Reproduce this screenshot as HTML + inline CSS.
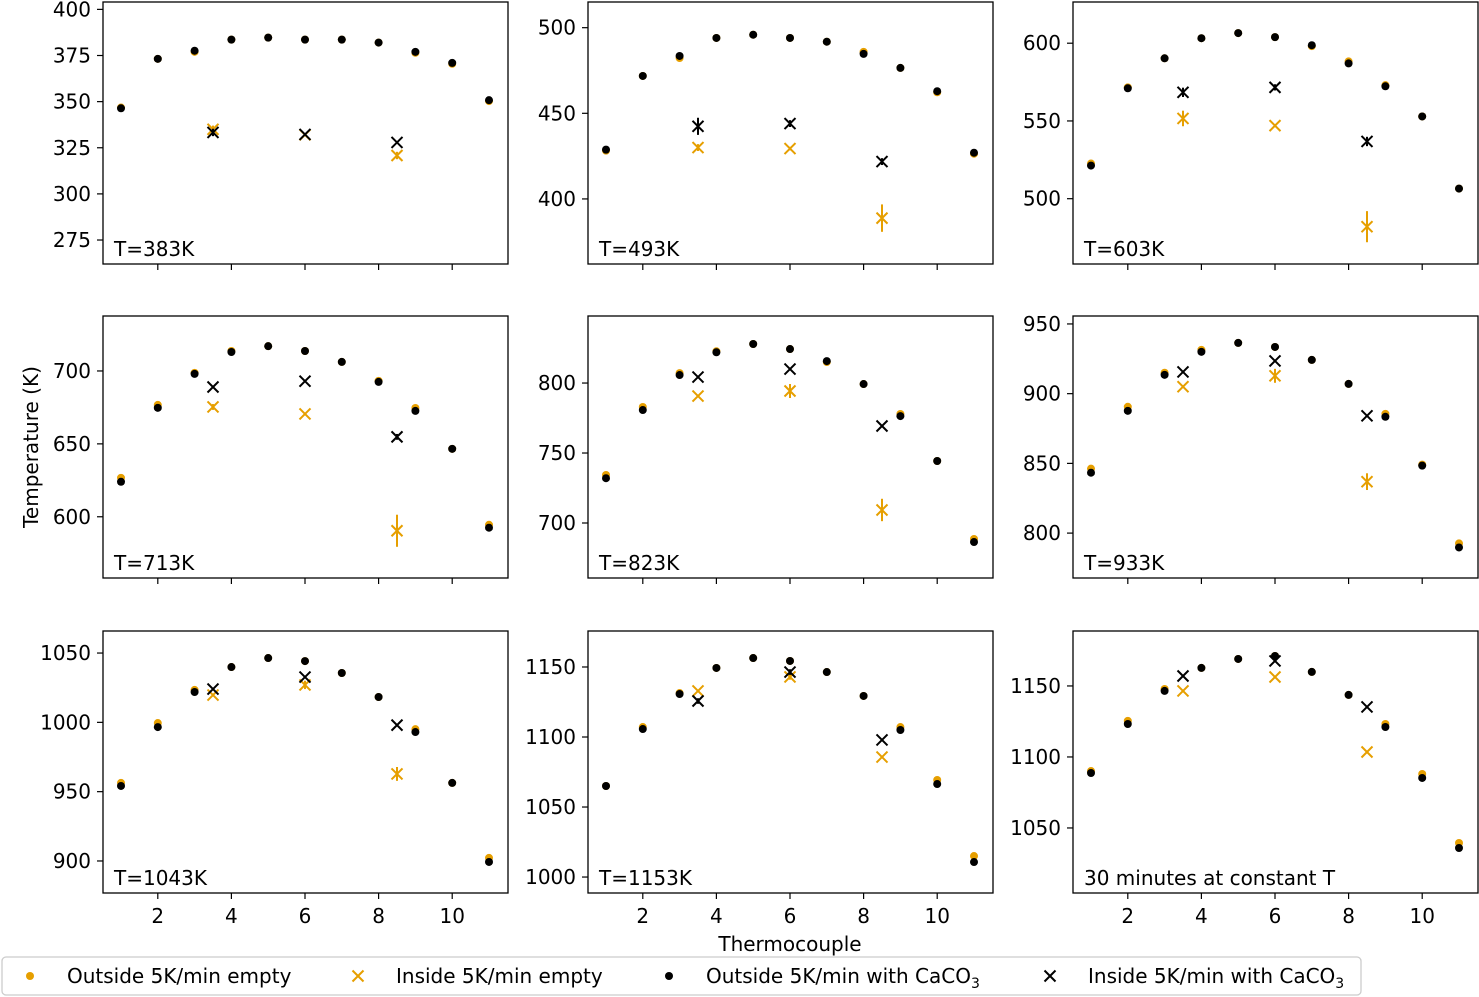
<!DOCTYPE html>
<html><head><meta charset="utf-8">
<style>
html,body{margin:0;padding:0;background:#fff;}
svg{display:block;font-family:"DejaVu Sans","Liberation Sans",sans-serif;}
</style></head>
<body>
<svg id="chart" width="1479" height="997" viewBox="0 0 1479 997"></svg>
<script>
const thermocouples=[1,2,3,4,5,6,7,8,9,10,11];
const insidePositions=[3.5,6,8.5];
const panelLabels=["T=383K","T=493K","T=603K","T=713K","T=823K","T=933K","T=1043K","T=1153K","30 minutes at constant T"];
const yTicks=[[275,300,325,350,375,400],[400,450,500],[500,550,600],[600,650,700],[700,750,800],[800,850,900,950],[900,950,1000,1050],[1000,1050,1100,1150],[1050,1100,1150]];
const yLimits=[[262,404],[362,515],[458,626.5],[558,737.7],[660.7,847.9],[767.8,955.7],[876.9,1065.9],[988.6,1175.7],[1004.2,1188.7]];
const xTicks=[2,4,6,8,10];
const outsideBlack=[
[346.4,373.2,377.6,383.6,384.7,383.6,383.6,382,377,371,350.8],
[428.8,471.8,483.5,494,495.9,494,491.8,484.7,476.5,462.9,427],
[521.3,571,590.3,603.2,606.5,603.9,598.7,587,572.3,552.9,506.5],
[624,674.7,698,713,717,713.7,706.2,692.5,672.6,646.6,592.5],
[732,780.7,805.7,822,827.9,824.3,815.7,799.3,776.4,744.3,686.4],
[843.3,887.7,913.5,930,936.4,933.5,924.2,907,883.4,848.4,789.7],
[954.1,996.6,1021.9,1039.9,1046.4,1044.2,1035.6,1018.3,993,956.3,899.3],
[1065,1105.7,1130.7,1149.3,1156.4,1154.3,1146.4,1129.3,1105,1066.4,1010.7],
[1088.7,1123.2,1146.5,1162.7,1169,1171.1,1159.9,1143.7,1121.1,1085.2,1035.9]];
const outsideEmpty=[
[346.8,373.2,377,383.6,384.7,383.6,383.6,382,376.5,370.5,350.3],
[428.2,471.8,482.3,494,495.9,494,491.8,485.9,476.5,462.3,426.4],
[522.6,571.6,590.3,603.2,606.5,603.9,598.1,588.3,573,552.9,506.5],
[626.7,676.7,698.7,713.7,717,713.7,706.2,693.2,674.6,646.6,594.5],
[734.3,782.9,807.1,822.7,827.9,824.3,815,799.3,777.9,744.3,688.6],
[846.2,890.6,915,931.4,936.4,933.5,924.2,907,885.5,849.1,792.6],
[956.3,999.5,1023.4,1039.9,1046.4,1044.2,1035.6,1018.3,995.1,956.3,902.2],
[1065,1107.1,1131.4,1149.3,1156.4,1154.3,1146.4,1129.3,1107.1,1069.3,1015],
[1090.1,1125.4,1147.9,1162.7,1169,1171.1,1159.9,1143.7,1123.2,1088,1039.4]];
const insideBlack=[[333.3,332.2,327.9],[442.4,444,421.8],[568.4,571.6,536.8],[689,693,654.8],[804.3,810,769.3],[915.6,923.5,884.1],[1024,1032.7,998],[1125.7,1146.4,1097.9],[1157,1167.6,1135.2]];
const insideBlackErr=[[2,0,0],[5,2,2],[3,2,3],[1,0,2],[1,1,1],[1,0,0],[1,1,0],[2,2,1],[1,1,0]];
const insideEmpty=[[335,332,320.8],[430,429.4,388.8],[551.6,547,482],[675.3,670.5,590.4],[790.7,794.3,709.3],[905,912.8,836.9],[1019.7,1027,962.8],[1132.9,1142.9,1085.7],[1146.5,1156.3,1103.5]];
const insideEmptyErr=[[2,0,2],[2,1,8],[5,1,10],[2,1,11],[1,5,8],[1,5,6],[1,3,5],[1,2,1],[1,1,1]];

const NS="http://www.w3.org/2000/svg";
const svg=document.getElementById('chart');
const ORANGE="#E69F00";
const FS=20;
function mk(tag,attrs,parent){const e=document.createElementNS(NS,tag);for(const k in attrs)e.setAttribute(k,attrs[k]);(parent||svg).appendChild(e);return e;}
const colX=[103,588,1073], rowY=[2,316,631], PW=405, PH=262;
function xMarker(g,cx,cy,color){
  const s=5.5;
  mk('path',{d:`M${cx-s},${cy-s}L${cx+s},${cy+s}M${cx-s},${cy+s}L${cx+s},${cy-s}`,stroke:color,'stroke-width':2,fill:'none'},g);
}
for(let p=0;p<9;p++){
  const c=p%3,r=Math.floor(p/3);
  const L=colX[c],T=rowY[r];
  const [y0,y1]=yLimits[p];
  const xs=v=>L+18+(v-1)*36.8;
  const ys=v=>T+PH-(v-y0)/(y1-y0)*PH;
  const g=mk('g',{});
  
  
  mk('rect',{x:L,y:T,width:PW,height:PH,fill:'none',stroke:'#000','stroke-width':1.3},g);
  yTicks[p].forEach(t=>{
    const y=ys(t);
    mk('line',{x1:L-6,x2:L,y1:y,y2:y,stroke:'#000','stroke-width':1.2},g);
    const tx=mk('text',{x:L-12,y:y+7,'text-anchor':'end','font-size':FS},g);tx.textContent=t;
    
    
  });
  xTicks.forEach(t=>{
    const x=xs(t);
    mk('line',{x1:x,x2:x,y1:T+PH,y2:T+PH+6,stroke:'#000','stroke-width':1.2},g);
    if(r===2){const tx=mk('text',{x:x,y:T+PH+30,'text-anchor':'middle','font-size':FS},g);tx.textContent=t;
      
      }
  });
  const lab=mk('text',{x:L+11,y:T+PH-8,'font-size':FS},g);lab.textContent=panelLabels[p];
  
  
  thermocouples.forEach((t,i)=>{
    const d=mk('circle',{cx:xs(t),cy:ys(outsideEmpty[p][i]),r:4,fill:ORANGE},g);
    
    
  });
  thermocouples.forEach((t,i)=>{
    const d=mk('circle',{cx:xs(t),cy:ys(outsideBlack[p][i]),r:4,fill:'#000'},g);
    
    
  });
  insidePositions.forEach((t,i)=>{
    const x=xs(t),e=insideEmptyErr[p][i],v=insideEmpty[p][i];
    if(e>0)mk('line',{x1:x,x2:x,y1:ys(v-e),y2:ys(v+e),stroke:ORANGE,'stroke-width':2},g);
    xMarker(g,x,ys(v),ORANGE);
  });
  insidePositions.forEach((t,i)=>{
    const x=xs(t),e=insideBlackErr[p][i],v=insideBlack[p][i];
    if(e>0)mk('line',{x1:x,x2:x,y1:ys(v-e),y2:ys(v+e),stroke:'#000','stroke-width':2},g);
    xMarker(g,x,ys(v),'#000');
  });
}
const yl=mk('text',{x:0,y:0,'font-size':FS,'text-anchor':'middle',transform:'translate(38,447) rotate(-90)'});yl.textContent='Temperature (K)';


const xl=mk('text',{x:790,y:951,'font-size':FS,'text-anchor':'middle'});xl.textContent='Thermocouple';


const lg=mk('g',{});


mk('rect',{x:2,y:957,width:1359,height:38,rx:4,fill:'#fff',stroke:'#ccc','stroke-width':1.3},lg);
mk('circle',{cx:30,cy:976,r:4,fill:ORANGE},lg);
xMarker(lg,358,976,ORANGE);
mk('circle',{cx:669,cy:976,r:4,fill:'#000'},lg);
xMarker(lg,1050,976,'#000');
const lt=[[67,'Outside 5K/min empty'],[396,'Inside 5K/min empty'],[706,'Outside 5K/min with CaCO<tspan font-size="14" dy="5">3</tspan>'],[1088,'Inside 5K/min with CaCO<tspan font-size="14" dy="5">3</tspan>']];
lt.forEach(([x,s])=>{const t=mk('text',{x:x,y:983,'font-size':FS},lg);t.innerHTML=s;
  
  });
</script>
</body></html>
